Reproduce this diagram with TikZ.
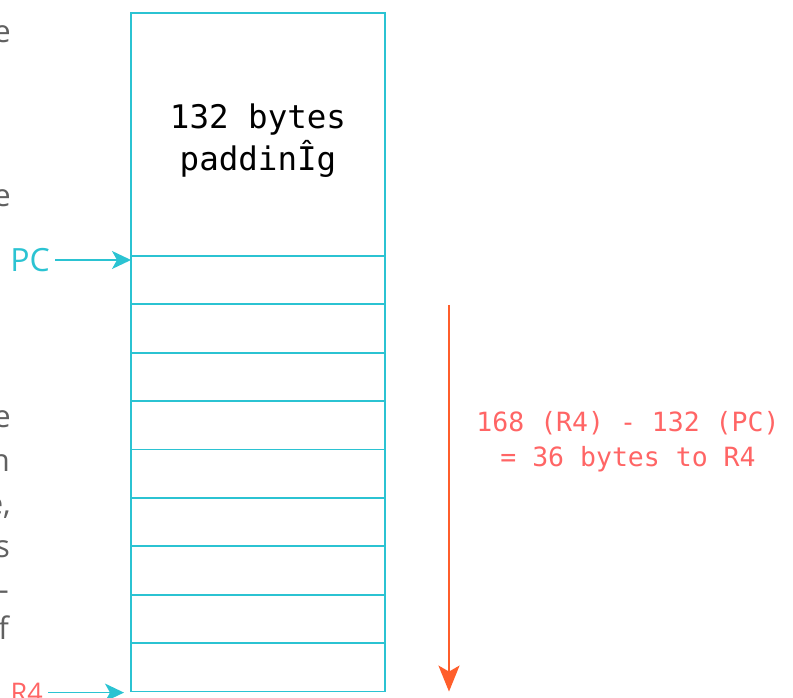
\documentclass[tikz,border=0pt]{standalone}
\usepackage{fontspec}
\setmainfont{Open Sans}
\setmonofont{DejaVu Sans Mono}
\usetikzlibrary{arrows.meta,positioning}
\definecolor{stackline}{HTML}{2BC3D2}
\definecolor{regred}{HTML}{FF6565}
\definecolor{spanorange}{HTML}{FF5E2B}
\definecolor{prose}{HTML}{606060}

\begin{document}
\begin{tikzpicture}[x=1pt,y=1pt,>=Stealth,node distance=0pt]
\tikzset{slot/.style={draw=stackline,line width=1.8pt,minimum width=254pt,minimum height=48.4pt,inner sep=0pt,outer sep=0pt}, padblock/.style={slot,minimum height=243pt}, ptr/.style={-{Stealth[length=19pt,width=18pt,inset=5pt]},draw=stackline,line width=1.6pt}, span/.style={-{Stealth[length=26pt,width=21pt,inset=6pt]},draw=spanorange,line width=2.2pt}, reglabel/.style={inner sep=5pt}, frag/.style={anchor=base east,inner sep=0pt,text=prose,font=\fontsize{31}{43}\selectfont}}
\useasboundingbox (0,0) rectangle (793,698);
% stack frame
\node[padblock] (pad) at (258,563.5) {};
\node[font=\ttfamily\fontsize{32.5}{42}\selectfont,align=center] (padtext) at ([yshift=-6pt]pad.center) {132 bytes\\paddinÎg};
\node[slot,below=of pad] (row1) {};
\foreach \i [evaluate=\i as \prev using int(\i-1)] in {2,...,9}
  \node[slot,below=of row\prev] (row\i) {};
% registers
\node[reglabel,text=stackline,font=\fontsize{32}{36}\selectfont,left=76pt of row1.north west,yshift=-4pt] (pc) {PC};
\node[reglabel,text=regred,font=\fontsize{27}{30}\selectfont,left=83pt of row9.south west,yshift=-1pt] (r4) {R4};
\draw[ptr] (pc) -- (pc -| row1.west);
\draw[ptr,shorten >=7pt] (r4) -- (r4 -| row9.west);
% distance to R4
\coordinate (spantop) at (449,393);
\draw[span] (spantop) -- (spantop |- row9.south);
\node[text=regred,font=\ttfamily\fontsize{26.5}{35}\selectfont,align=center] (diff) at (628,256) {168 (R4) - 132 (PC)\\= 36 bytes to R4};
% cut-off prose on the left
\node[frag] (f1) at (11,655) {e};
\node[frag] (f2) at (11,491) {e};
\node[frag] (f3) at (11,270) {e};
\node[frag] (f4) at (10,226) {n};
\node[frag] (f5) at (11,183) {e,};
\node[frag] (f6) at (10,140) {s};
\node[frag] (f7) at (9,97) {t-};
\node[frag] (f8) at (9,58) {of};
\end{tikzpicture}
\end{document}
